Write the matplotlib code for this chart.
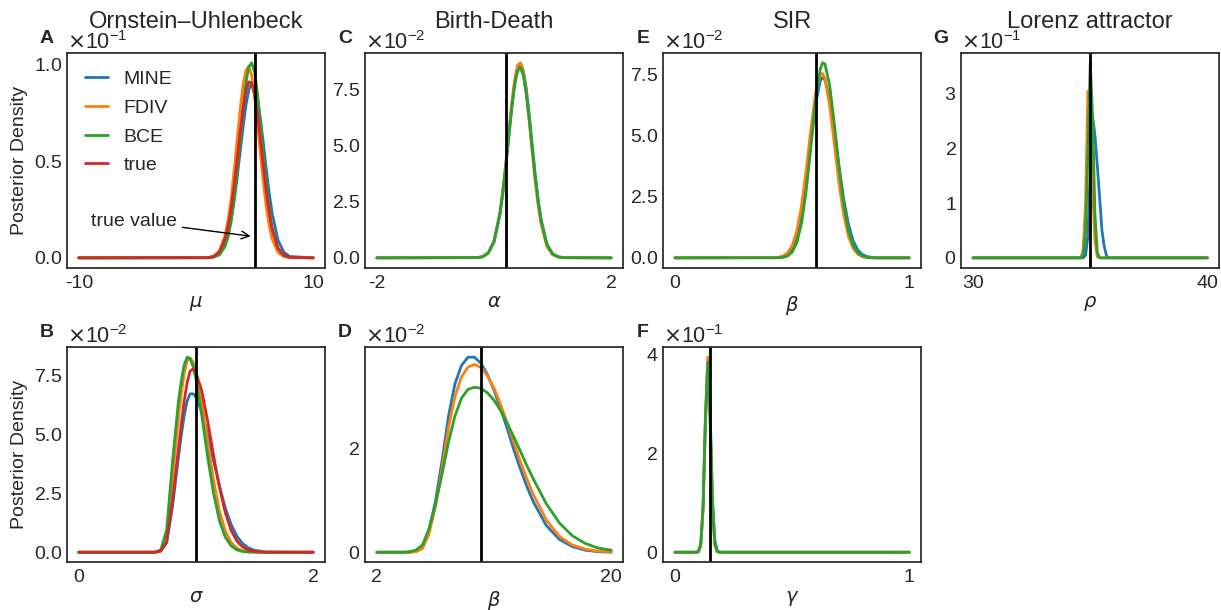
import matplotlib.pyplot as plt
from matplotlib.ticker import ScalarFormatter

plt.style.use('seaborn-v0_8-white')
plt.rcParams['font.family'] = ['Liberation Sans', 'DejaVu Sans']
plt.rcParams['font.size'] = 14
plt.rcParams['axes.unicode_minus'] = False

method_names = ['MINE', 'FDIV', 'BCE', 'true']
method_colors = ['#1f77b4', '#ff7f0e', '#2ca02c', '#d62728']

# A - Ornstein-Uhlenbeck, mu
ou_mu_grid = [-10, 1, 1.5, 2, 2.5, 2.75, 3, 3.25, 3.5, 3.75, 4, 4.25, 4.5, 4.75, 5, 5.25, 5.5, 5.75, 6, 6.25, 6.5, 7, 7.5, 8, 10]
ou_mu_mine = [0, 0.0001, 0.0005, 0.0022, 0.0075, 0.0125, 0.0195, 0.0293, 0.0408, 0.0537, 0.0666, 0.0783, 0.0866, 0.0902, 0.0887, 0.0821, 0.0717, 0.0591, 0.0456, 0.0334, 0.0231, 0.0091, 0.0029, 0.0007, 0]
ou_mu_fdiv = [0, 0.0001, 0.0008, 0.0035, 0.0121, 0.0199, 0.0307, 0.0448, 0.0600, 0.0755, 0.0886, 0.0968, 0.0989, 0.0942, 0.0837, 0.0694, 0.0535, 0.0388, 0.0262, 0.0166, 0.0096, 0.0027, 0.0006, 0.0001, 0]
ou_mu_bce = [0, 0.0, 0.0003, 0.0015, 0.0061, 0.0111, 0.0189, 0.0299, 0.0439, 0.0600, 0.0763, 0.0899, 0.0986, 0.1008, 0.0960, 0.0848, 0.0698, 0.0533, 0.0379, 0.0251, 0.0154, 0.0047, 0.0011, 0.0002, 0]
ou_mu_true = [0, 0.0001, 0.0007, 0.0031, 0.0101, 0.0165, 0.0254, 0.0367, 0.0499, 0.0637, 0.0763, 0.0860, 0.0909, 0.0904, 0.0844, 0.0740, 0.0610, 0.0472, 0.0343, 0.0234, 0.0150, 0.0051, 0.0014, 0.0003, 0]

# B - Ornstein-Uhlenbeck, sigma
ou_sigma_grid = [0, 0.65, 0.7, 0.75, 0.8, 0.85, 0.875, 0.9, 0.925, 0.95, 0.975, 1.0, 1.05, 1.1, 1.15, 1.2, 1.25, 1.3, 1.35, 1.4, 1.45, 1.5, 1.6, 2.0]
ou_sigma_mine = [0, 0, 0.0005, 0.0040, 0.0195, 0.0403, 0.0498, 0.0582, 0.0644, 0.0674, 0.0674, 0.0660, 0.0597, 0.0501, 0.0390, 0.0283, 0.0188, 0.0118, 0.0067, 0.0036, 0.0018, 0.0008, 0.0001, 0]
ou_sigma_fdiv = [0, 0, 0.0008, 0.0070, 0.0320, 0.0575, 0.0677, 0.0762, 0.0815, 0.0827, 0.0810, 0.0770, 0.0637, 0.0468, 0.0306, 0.0176, 0.0091, 0.0041, 0.0017, 0.0006, 0.0002, 0.0001, 0, 0]
ou_sigma_bce = [0, 0, 0.0010, 0.0095, 0.0385, 0.0640, 0.0728, 0.0798, 0.0830, 0.0824, 0.0792, 0.0737, 0.0582, 0.0405, 0.0250, 0.0135, 0.0064, 0.0027, 0.0010, 0.0003, 0.0001, 0, 0, 0]
ou_sigma_true = [0, 0, 0.0005, 0.0045, 0.0220, 0.0440, 0.0547, 0.0645, 0.0723, 0.0771, 0.0780, 0.0765, 0.0686, 0.0558, 0.0412, 0.0277, 0.0169, 0.0093, 0.0047, 0.0022, 0.0009, 0.0004, 0, 0]

# C - Birth-Death, alpha
bd_alpha_grid = [-2, -0.3, -0.2, -0.1, 0, 0.1, 0.15, 0.2, 0.25, 0.3, 0.35, 0.4, 0.45, 0.5, 0.55, 0.6, 0.65, 0.7, 0.75, 0.8, 0.9, 1.0, 1.1, 1.2, 2]
bd_alpha_mine = [0, 0.0001, 0.0004, 0.0020, 0.0069, 0.0189, 0.0285, 0.0401, 0.0533, 0.0662, 0.0771, 0.0843, 0.0865, 0.0832, 0.0752, 0.0638, 0.0506, 0.0376, 0.0264, 0.0174, 0.0061, 0.0017, 0.0004, 0.0001, 0]
bd_alpha_fdiv = [0, 0.0001, 0.0004, 0.0020, 0.0072, 0.0198, 0.0299, 0.0418, 0.0554, 0.0686, 0.0790, 0.0856, 0.0867, 0.0823, 0.0731, 0.0606, 0.0474, 0.0345, 0.0235, 0.0152, 0.0051, 0.0013, 0.0003, 0, 0]
bd_alpha_bce = [0, 0.0001, 0.0005, 0.0022, 0.0075, 0.0200, 0.0296, 0.0413, 0.0539, 0.0663, 0.0766, 0.0830, 0.0846, 0.0810, 0.0728, 0.0615, 0.0488, 0.0364, 0.0255, 0.0168, 0.0060, 0.0017, 0.0004, 0.0001, 0]

# D - Birth-Death, beta
bd_beta_grid = [2, 4, 4.5, 5, 5.5, 6, 6.5, 7, 7.5, 8, 8.5, 9, 9.5, 10, 10.5, 11, 11.5, 12, 12.5, 13, 13.5, 14, 15, 16, 17, 18, 19, 20]
bd_beta_mine = [0, 0, 0, 0.0002, 0.0010, 0.0042, 0.0098, 0.0175, 0.0262, 0.0325, 0.0360, 0.0376, 0.0376, 0.0364, 0.0342, 0.0312, 0.0277, 0.0239, 0.0199, 0.0162, 0.0128, 0.0098, 0.0052, 0.0025, 0.0011, 0.0004, 0.0001, 0]
bd_beta_fdiv = [0, 0, 0, 0.0001, 0.0007, 0.0035, 0.0088, 0.0160, 0.0240, 0.0300, 0.0338, 0.0357, 0.0362, 0.0356, 0.0340, 0.0316, 0.0285, 0.0250, 0.0213, 0.0176, 0.0143, 0.0112, 0.0063, 0.0031, 0.0014, 0.0006, 0.0002, 0.0001]
bd_beta_bce = [0, 0, 0.0001, 0.0004, 0.0014, 0.0045, 0.0092, 0.0150, 0.0212, 0.0263, 0.0297, 0.0314, 0.0318, 0.0316, 0.0307, 0.0293, 0.0273, 0.0249, 0.0223, 0.0196, 0.0168, 0.0142, 0.0094, 0.0057, 0.0032, 0.0017, 0.0008, 0.0004]

# E - SIR, beta
sir_beta_grid = [0, 0.44, 0.46, 0.48, 0.50, 0.52, 0.54, 0.56, 0.58, 0.60, 0.62, 0.63, 0.64, 0.66, 0.68, 0.70, 0.72, 0.74, 0.76, 0.78, 0.80, 0.82, 0.84, 0.86, 1.0]
sir_beta_mine = [0, 0.0001, 0.0004, 0.0013, 0.0037, 0.0085, 0.0174, 0.0308, 0.0473, 0.0626, 0.0723, 0.0736, 0.0726, 0.0650, 0.0521, 0.0372, 0.0239, 0.0138, 0.0070, 0.0032, 0.0013, 0.0005, 0.0002, 0, 0]
sir_beta_fdiv = [0, 0.0002, 0.0007, 0.0020, 0.0050, 0.0110, 0.0213, 0.0358, 0.0525, 0.0672, 0.0749, 0.0752, 0.0731, 0.0622, 0.0466, 0.0303, 0.0175, 0.0088, 0.0039, 0.0015, 0.0005, 0.0001, 0, 0, 0]
sir_beta_bce = [0, 0, 0.0002, 0.0007, 0.0023, 0.0062, 0.0141, 0.0275, 0.0454, 0.0642, 0.0771, 0.0796, 0.0791, 0.0704, 0.0547, 0.0370, 0.0219, 0.0112, 0.0050, 0.0020, 0.0007, 0.0002, 0, 0, 0]

# F - SIR, gamma
sir_gamma_grid = [0, 0.09, 0.10, 0.11, 0.12, 0.13, 0.14, 0.15, 0.16, 0.17, 0.18, 0.19, 1.0]
sir_gamma_mine = [0, 0, 0.0005, 0.012, 0.085, 0.26, 0.38, 0.29, 0.11, 0.025, 0.003, 0, 0]
sir_gamma_fdiv = [0, 0, 0.0007, 0.014, 0.090, 0.27, 0.395, 0.265, 0.088, 0.014, 0.001, 0, 0]
sir_gamma_bce = [0, 0, 0.0015, 0.017, 0.096, 0.273, 0.385, 0.273, 0.096, 0.017, 0.0015, 0, 0]

# G - Lorenz attractor, rho
lorenz_rho_grid = [30, 34.5, 34.6, 34.7, 34.8, 34.9, 35.0, 35.1, 35.2, 35.3, 35.4, 35.5, 35.6, 35.7, 35.8, 40]
lorenz_rho_mine = [0, 0, 0, 0, 0.005, 0.04, 0.16, 0.258, 0.225, 0.17, 0.11, 0.05, 0.02, 0.003, 0, 0]
lorenz_rho_fdiv = [0, 0, 0, 0.015, 0.10, 0.305, 0.30, 0.13, 0.03, 0.002, 0, 0, 0, 0, 0, 0]
lorenz_rho_bce = [0, 0, 0, 0.005, 0.05, 0.19, 0.357, 0.26, 0.08, 0.01, 0, 0, 0, 0, 0, 0]

true_values = {'A': 5, 'B': 1.0, 'C': 0.2, 'D': 10, 'E': 0.6, 'F': 0.15, 'G': 35}

panels = [
    (0, 0, 'A', 'Ornstein–Uhlenbeck', r'$\mu$', ou_mu_grid,
     [ou_mu_mine, ou_mu_fdiv, ou_mu_bce, ou_mu_true], [-10, 10], [0, 0.05, 0.1]),
    (1, 0, 'B', None, r'$\sigma$', ou_sigma_grid,
     [ou_sigma_mine, ou_sigma_fdiv, ou_sigma_bce, ou_sigma_true], [0, 2], [0, 0.025, 0.05, 0.075]),
    (0, 1, 'C', 'Birth-Death', r'$\alpha$', bd_alpha_grid,
     [bd_alpha_mine, bd_alpha_fdiv, bd_alpha_bce], [-2, 2], [0, 0.025, 0.05, 0.075]),
    (1, 1, 'D', None, r'$\beta$', bd_beta_grid,
     [bd_beta_mine, bd_beta_fdiv, bd_beta_bce], [2, 20], [0, 0.02]),
    (0, 2, 'E', 'SIR', r'$\beta$', sir_beta_grid,
     [sir_beta_mine, sir_beta_fdiv, sir_beta_bce], [0, 1], [0, 0.025, 0.05, 0.075]),
    (1, 2, 'F', None, r'$\gamma$', sir_gamma_grid,
     [sir_gamma_mine, sir_gamma_fdiv, sir_gamma_bce], [0, 1], [0, 0.2, 0.4]),
    (0, 3, 'G', 'Lorenz attractor', r'$\rho$', lorenz_rho_grid,
     [lorenz_rho_mine, lorenz_rho_fdiv, lorenz_rho_bce], [30, 40], [0, 0.1, 0.2, 0.3]),
]

fig, axes = plt.subplots(2, 4, figsize=(12.21, 6.10), dpi=100)
fig.subplots_adjust(left=0.0549, right=0.9985, bottom=0.0787, top=0.9131,
                    wspace=0.156, hspace=0.372)
axes[1, 3].axis('off')

for row, col, letter, title, xlabel, grid, curves, xticks, yticks in panels:
    ax = axes[row, col]
    for vals, name, color in zip(curves, method_names, method_colors):
        ax.plot(grid, vals, color=color, lw=2, label=name)
    ax.axvline(true_values[letter], color='black', lw=2)
    ax.set_xticks(xticks)
    ax.set_yticks(yticks)
    ax.tick_params(axis='x', pad=5)
    fmt = ScalarFormatter(useMathText=True)
    fmt.set_powerlimits((0, 0))
    ax.yaxis.set_major_formatter(fmt)
    ax.yaxis.get_offset_text().set_fontsize(15.5)
    ax.set_xlabel(xlabel, labelpad=2)
    if col == 0:
        ax.set_ylabel('Posterior Density')
    if title:
        ax.text(0.5, 1.116, title, transform=ax.transAxes, ha='center',
                va='baseline', fontsize=17)
    ax.text(-0.079, 1.047, letter, transform=ax.transAxes, ha='center',
            va='baseline', fontsize=14, fontweight='bold')

ax = axes[0, 0]
ax.legend(loc='upper left', handlelength=1.2, labelspacing=0.57)
ax.annotate('true value', xy=(4.9, 0.011), xytext=(-5.3, 0.019),
            ha='center', va='center',
            arrowprops=dict(arrowstyle='->', color='black', lw=1))

fig.savefig('out.png', dpi=100)
